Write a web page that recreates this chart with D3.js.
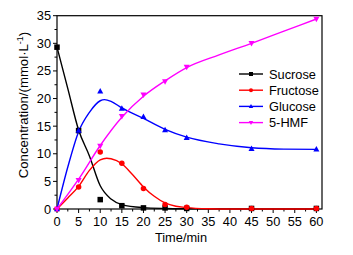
<!DOCTYPE html>
<html><head><meta charset="utf-8">
<script src="https://cdn.jsdelivr.net/npm/d3@7"></script>
<style>body{margin:0;background:#fff}svg{display:block}text{font-family:Arial,"Liberation Sans",sans-serif}</style>
</head><body><svg id="c" width="353" height="255"></svg>
<script>
const times = [0,5,10,15,20,25,30,45,60];
const sucrose  = [29.3,14.2,1.7,0.6,0.2,0.2,0.1,0.1,0.1];
const fructose = [0,4.0,10.3,8.3,3.7,0.8,0.3,0.1,0.1];
const glucose  = [0,14.2,21.3,18.2,16.7,14.3,12.9,10.9,10.8];
const hmf      = [0,5.2,11.4,16.8,20.7,23.1,25.7,30.0,34.4];

const sucroseFitT = [0,2.5,5,7.5,10,12.5,15,20,25,30,40,50,60];
const sucroseFitV = [29.3,21.8,14.3,9.6,4.2,1.8,0.8,0.25,0.1,0.05,0.02,0.01,0];
const fructoseFitT = [0,2.5,5,7.5,10,11.5,12.5,15,17.5,20,22.5,25,27.5,30,35,40,60];
const fructoseFitV = [0,2.0,4.1,7.0,8.9,9.2,9.1,8.2,6.2,4.0,2.3,1.1,0.5,0.25,0.05,0,0];
const glucoseFitT = [0,2.5,5,7.5,10,11,12.5,15,20,25,30,37.5,45,52.5,60];
const glucoseFitV = [0,7.6,14.0,17.5,19.6,19.8,19.5,18.3,16.4,14.4,13.0,11.8,11.1,10.85,10.8];
const hmfFitT = [0,5,10,15,20,25,30,37.5,45,52.5,60];
const hmfFitV = [0,5.4,11.5,16.6,20.4,23.2,25.6,27.9,30.0,32.2,34.4];

const xTicks = [0,5,10,15,20,25,30,35,40,45,50,55,60];
const yTicks = [0,5,10,15,20,25,30,35];
const seriesNames = ["Sucrose","Fructose","Glucose","5-HMF"];
const seriesColors = ["#000000","#ff0000","#0000ff","#ff00ff"];
const seriesShapes = ["square","circle","triUp","triDown"];

const svg = d3.select("#c");
const L=57, R=322, T=15.7, B=209;
const x = d3.scaleLinear().domain([0,61.3]).range([L,R]);
const y = d3.scaleLinear().domain([0,35]).range([B,T]);

svg.append("rect").attr("x",L).attr("y",T).attr("width",R-L).attr("height",B-T)
  .attr("fill","none").attr("stroke","#000").attr("stroke-width",1.2);

const xMinor = d3.range(0,61,2.5);
svg.append("g").selectAll("line").data(xMinor).join("line")
  .attr("x1",d=>x(d)).attr("x2",d=>x(d)).attr("y1",B).attr("y2",d=>B+(d%5===0?4:2.5))
  .attr("stroke","#000").attr("stroke-width",1);
svg.append("g").selectAll("text").data(xTicks).join("text")
  .attr("x",d=>x(d)).attr("y",226).attr("text-anchor","middle").attr("font-size",12.8).text(d=>d);
const yMinor = d3.range(0,35.1,2.5);
svg.append("g").selectAll("line").data(yMinor).join("line")
  .attr("y1",d=>y(d)).attr("y2",d=>y(d)).attr("x1",L).attr("x2",d=>L-(d%5===0?4:2.5))
  .attr("stroke","#000").attr("stroke-width",1);
svg.append("g").selectAll("text").data(yTicks).join("text")
  .attr("x",51).attr("y",d=>y(d)+4.5).attr("text-anchor","end").attr("font-size",12.8).text(d=>d);

svg.append("text").attr("x",181).attr("y",242).attr("text-anchor","middle").attr("font-size",12.8).text("Time/min");
const yl = svg.append("text").attr("transform","translate(28,105) rotate(-90)").attr("text-anchor","middle").attr("font-size",13.2);
yl.append("tspan").text("Concentration/(mmol·L");
yl.append("tspan").attr("font-size",9).attr("dy",-5).text("-1");
yl.append("tspan").attr("dy",5).text(")");

const fits = [[sucroseFitT,sucroseFitV],[fructoseFitT,fructoseFitV],[glucoseFitT,glucoseFitV],[hmfFitT,hmfFitV]];
const pts = [sucrose,fructose,glucose,hmf];
const line = d3.line().x(d=>x(d[0])).y(d=>y(d[1])).curve(d3.curveMonotoneX);

function marker(g, shape, cx, cy, color, s){
  if(shape==="square") g.append("rect").attr("x",cx-s/2).attr("y",cy-s/2).attr("width",s).attr("height",s).attr("fill",color);
  else if(shape==="circle") g.append("circle").attr("cx",cx).attr("cy",cy).attr("r",s/2).attr("fill",color);
  else if(shape==="triUp") g.append("path").attr("d",`M${cx},${cy-s*0.6}L${cx+s*0.55},${cy+s*0.4}L${cx-s*0.55},${cy+s*0.4}Z`).attr("fill",color);
  else g.append("path").attr("d",`M${cx},${cy+s*0.6}L${cx+s*0.55},${cy-s*0.4}L${cx-s*0.55},${cy-s*0.4}Z`).attr("fill",color);
}

fits.forEach((f,i)=>{
  svg.append("path").datum(f[0].map((t,j)=>[t,f[1][j]])).attr("d",line)
    .attr("fill","none").attr("stroke",seriesColors[i]).attr("stroke-width",1.4);
});
pts.forEach((p,i)=>{
  const g = svg.append("g");
  p.forEach((v,j)=>marker(g,seriesShapes[i],x(times[j]),y(v),seriesColors[i],5.5));
});

const lg = svg.append("g");
seriesNames.forEach((n,i)=>{
  const yy = 74 + i*16.2;
  lg.append("line").attr("x1",239).attr("x2",263).attr("y1",yy).attr("y2",yy).attr("stroke",seriesColors[i]).attr("stroke-width",1.4);
  marker(lg,seriesShapes[i],251,yy,seriesColors[i],4);
  lg.append("text").attr("x",269).attr("y",yy+4.5).attr("font-size",12.8).text(n);
});
</script></body></html>
